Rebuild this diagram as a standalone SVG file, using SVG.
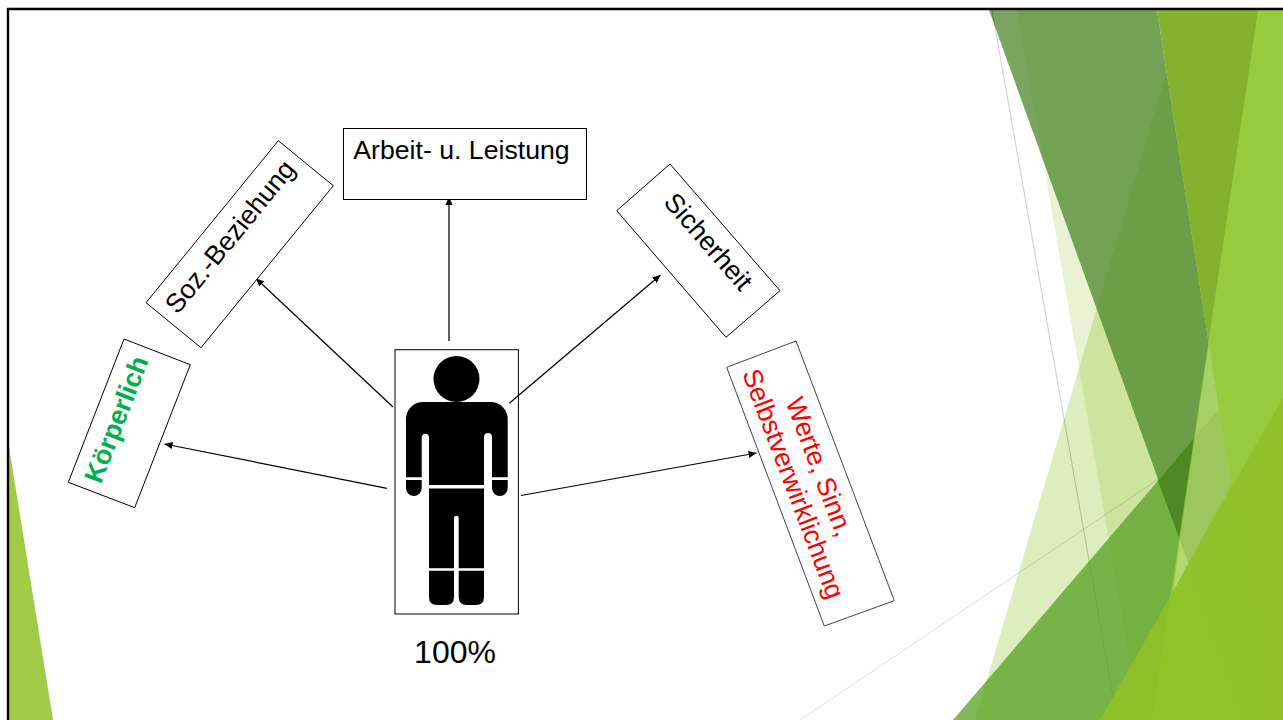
<svg xmlns="http://www.w3.org/2000/svg" width="1283" height="720" viewBox="0 0 1283 720">
<style>
.box{fill:#fff;stroke:#000;stroke-width:1}
.t{font-family:"Liberation Sans",Arial,sans-serif;font-size:26.67px;fill:#000;text-anchor:middle}
.conn{fill:none;stroke:#000;stroke-width:1.25;marker-end:url(#arrow)}
</style>
<defs>
<marker id="arrow" markerUnits="userSpaceOnUse" markerWidth="10" markerHeight="8" refX="8" refY="4" orient="auto"><path d="M0,0.4 L8,4 L0,7.6 Z" fill="#000"/></marker>
</defs>
<rect width="1283" height="720" fill="#fff"/>
<g id="background">
<polygon points="1185,10 1283,10 1283,720 975,720" fill="#90C226" fill-opacity=".3"/>
<polygon points="1017,10 1283,10 1283,720 1140,720" fill="#90C226" fill-opacity=".2"/>
<polygon points="989,10 1157,10 1209,345 1180,540" fill="#458224" fill-opacity=".72"/>
<line x1="992" y1="10" x2="1115" y2="708" stroke="#000" stroke-opacity=".2"/>
<line x1="800" y1="720" x2="1160" y2="478" stroke="#000" stroke-opacity=".13"/>
<polygon points="953,720 1283,335 1283,720" fill="#54A021" fill-opacity=".75"/>
<polygon points="1158,481 1195,437 1180,540" fill="#4e8a24"/>
<polygon points="1157,10 1283,10 1283,720 1267,720" fill="#84b22e"/>
<polygon points="1258,10 1283,10 1283,720 1152,720" fill="#9dd141" fill-opacity=".75"/>
<polygon points="1209,345 1219,410 1195,436" fill="#a7d065"/>
<polygon points="1195,436 1219,410 1232,482 1173,592" fill="#9dc75c"/>
<polygon points="1180,540 1188,563 1173,592" fill="#b3d86e"/>
<polygon points="1100,720 1283,398 1283,720" fill="#90C226" fill-opacity=".9"/>
<polygon points="1188,563 1245,720 1283,720 1283,398" fill="#8fbf2c" fill-opacity=".6"/>
<polygon points="9,447 53,720 9,720" fill="#90C226" fill-opacity=".85"/>
<path d="M1283,9 H8 V720" fill="none" stroke="#000" stroke-width="2.4"/>
</g>
<g id="connectors">
<line class="conn" x1="449" y1="341" x2="449" y2="197"/>
<line class="conn" x1="393" y1="407" x2="256" y2="278.5"/>
<line class="conn" x1="509.3" y1="403.3" x2="660.5" y2="275"/>
<line class="conn" x1="387" y1="488.3" x2="164.5" y2="444"/>
<line class="conn" x1="521" y1="495.5" x2="756.5" y2="453"/>
</g>
<g id="node-person">
<rect x="395" y="349.7" width="123.4" height="264.3" fill="none" stroke="#000" stroke-width="1"/>
<circle cx="456.5" cy="379" r="23"/>
<path d="M406,477.3 V419 A17,17 0 0 1 423,402 H490.7 A17,17 0 0 1 507.7,419 V477.3 H492 V437 A4,4 0 0 0 484,437 V485 H429 V437 A3.7,4 0 0 0 421.7,437 V477.3 Z"/>
<path d="M406,480 H421.7 V488 A7.85,8 0 0 1 406,488 Z"/>
<path d="M492,480 H507.7 V488 A7.85,8 0 0 1 492,488 Z"/>
<path d="M429,488.5 H484 V568.3 H458.7 V518 A2.35,2.35 0 0 0 454,518 V568.3 H429 Z"/>
<path d="M429,570.8 H454 V597 Q454,605 446,605 H437 Q429,605 429,597 Z"/>
<path d="M458.7,570.8 H484 V597 Q484,605 476,605 H466.7 Q458.7,605 458.7,597 Z"/>
</g>
<g id="node-percent"><text class="t" x="455" y="663" style="font-size:32px">100%</text></g>
<g id="node-arbeit">
<rect class="box" x="343.5" y="128.5" width="243" height="71"/>
<text class="t" x="353.3" y="159.3" style="text-anchor:start">Arbeit- u. Leistung</text>
</g>
<g id="node-soz">
<polygon class="box" points="278.3,140.7 333.3,185.7 201,347.7 146,302.7"/>
<text class="t" transform="translate(237,242.4) rotate(-50.8)">Soz.-Beziehung</text>
</g>
<g id="node-koerperlich">
<polygon class="box" points="124,339 190.3,364.7 134.7,507.7 68.3,482.3"/>
<text class="t" transform="translate(124.9,422.7) rotate(-68.8)" style="font-weight:bold;fill:#00B050">Körperlich</text>
</g>
<g id="node-sicherheit">
<polygon class="box" points="670,164 780,290.7 726,337.3 616.7,210.7"/>
<text class="t" transform="translate(701.5,247.6) rotate(49)">Sicherheit</text>
</g>
<g id="node-werte">
<polygon class="box" style="stroke:#37474f" points="796,341 894.3,600.7 824.3,626 726.7,367.3"/>
<text class="t" transform="translate(811,470) rotate(69.3)" style="fill:#f00">Werte, Sinn,</text>
<text class="t" transform="translate(785,487) rotate(69.3)" style="fill:#f00">Selbstverwirklichung</text>
</g>
</svg>
